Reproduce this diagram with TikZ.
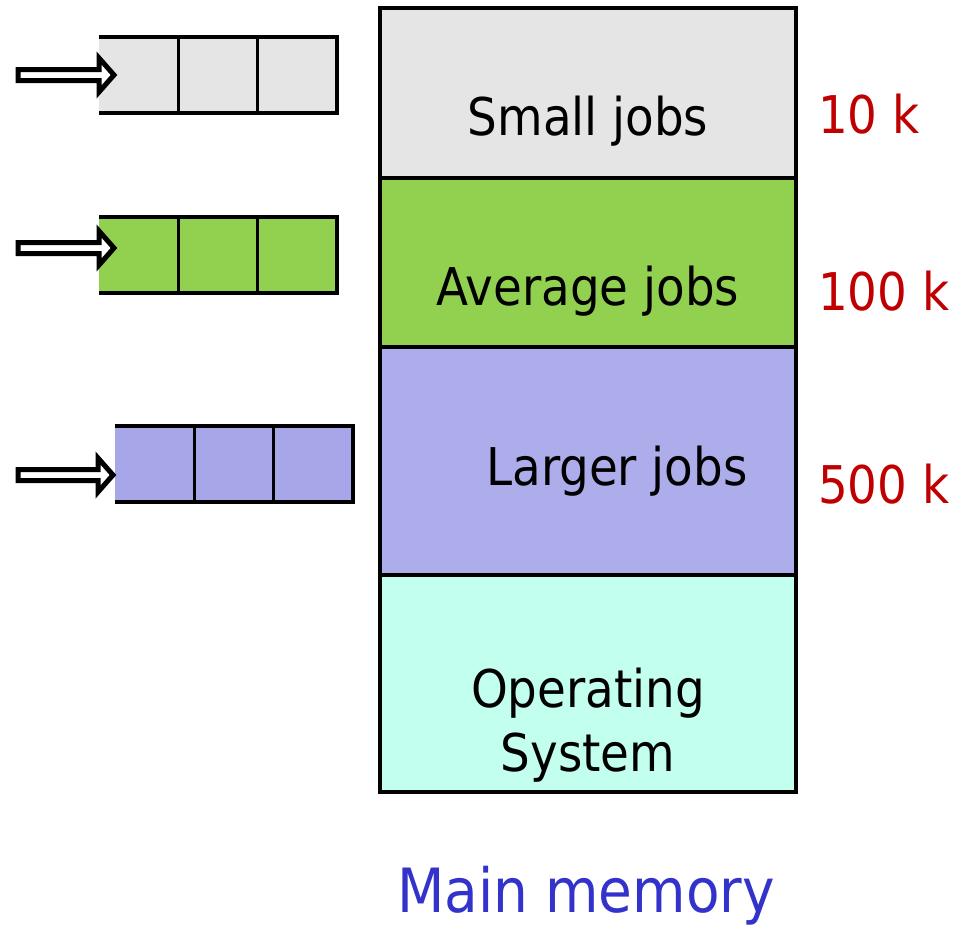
\documentclass[tikz,border=0pt]{standalone}
\usepackage{fontspec}
\setmainfont{DejaVu Sans Condensed}
\usetikzlibrary{positioning,calc}
\definecolor{smallgrey}{HTML}{E5E5E5}
\definecolor{avggreen}{HTML}{92D050}
\definecolor{largemem}{HTML}{ADADEB}
\definecolor{largeq}{HTML}{A6A6E8}
\definecolor{oscyan}{HTML}{C2FFEF}
\definecolor{sizered}{HTML}{C00000}
\definecolor{titleblue}{HTML}{3333CC}
\tikzset{
  frame/.style={
    line width=3.5pt,
    draw=black
  },
  memblock/.style={
    rectangle,
    frame,
    minimum width=416pt,
    inner sep=0pt,
    outer sep=0pt
  },
  queue/.style={
    rectangle,
    minimum width=238pt,
    minimum height=76pt,
    inner sep=0pt,
    outer sep=0pt
  },
  memtext/.style={
    anchor=base,
    inner sep=0pt,
    font=\fontsize{52}{64}\selectfont
  },
  sizetext/.style={
    anchor=base west,
    inner sep=0pt,
    text=sizered,
    font=\fontsize{52}{64}\selectfont
  },
  arrowbody/.style={
    line width=5pt,
    draw=black,
    fill=white,
    line join=miter
  }
}
% hollow block arrow from #1 to #2
\newcommand{\blockarrow}[2]{%
  \draw[arrowbody] ($(#1)+(0,-5.5)$) -- ($(#2)+(-15,-5.5)$) -- ($(#2)+(-15,-17)$)
    -- (#2) -- ($(#2)+(-15,17)$) -- ($(#2)+(-15,5.5)$) -- ($(#1)+(0,5.5)$) -- cycle;
}
% open-left queue of three cells
\newcommand{\queuecells}[1]{%
  \draw[frame] (#1.north west) -- (#1.north east) -- (#1.south east) -- (#1.south west);
  \foreach \f in {0.3333,0.6667}
    \draw[frame] ($(#1.north west)!\f!(#1.north east)$) -- ($(#1.south west)!\f!(#1.south east)$);
}

\begin{document}
\begin{tikzpicture}[x=1pt,y=-1pt]
  \useasboundingbox (0,0) rectangle (965,926);

  % main memory
  \node[memblock, fill=smallgrey, minimum height=170pt, anchor=north west] (small) at (380,8) {};
  \node[memblock, fill=avggreen, minimum height=169pt, below=0pt of small] (average) {};
  \node[memblock, fill=largemem, minimum height=228pt, below=0pt of average] (larger) {};
  \node[memblock, fill=oscyan, minimum height=217pt, below=0pt of larger] (os) {};

  \node[memtext] (tsmall) at (588,135) {Small jobs};
  \node[memtext] (taverage) at (588,305) {Average jobs};
  \node[memtext] (tlarger) at (617,485) {Larger jobs};
  \node[memtext, align=center] (tos) at (588,771) {Operating\\System};

  \node[sizetext] (s10) at (818,133) {10 k};
  \node[sizetext] (s100) at (818,310) {100 k};
  \node[sizetext] (s500) at (818,503) {500 k};

  \node[memtext, text=titleblue, font=\fontsize{61}{70}\selectfont] (title) at (586,912) {Main memory};

  % queues
  \node[queue, fill=smallgrey] (qsmall) at (218,75) {};
  \node[queue, fill=avggreen] (qaverage) at (218,255) {};
  \node[queue, fill=largeq] (qlarger) at (234,464) {};
  \queuecells{qsmall}
  \queuecells{qaverage}
  \queuecells{qlarger}

  % incoming arrows
  \coordinate (tail1) at (18,75);
  \coordinate (tail2) at (18,248);
  \coordinate (tail3) at (18,475);
  \coordinate (tip1) at (114,75);
  \coordinate (tip2) at (114,248);
  \coordinate (tip3) at (113,475);
  \blockarrow{tail1}{tip1}
  \blockarrow{tail2}{tip2}
  \blockarrow{tail3}{tip3}
\end{tikzpicture}
\end{document}
